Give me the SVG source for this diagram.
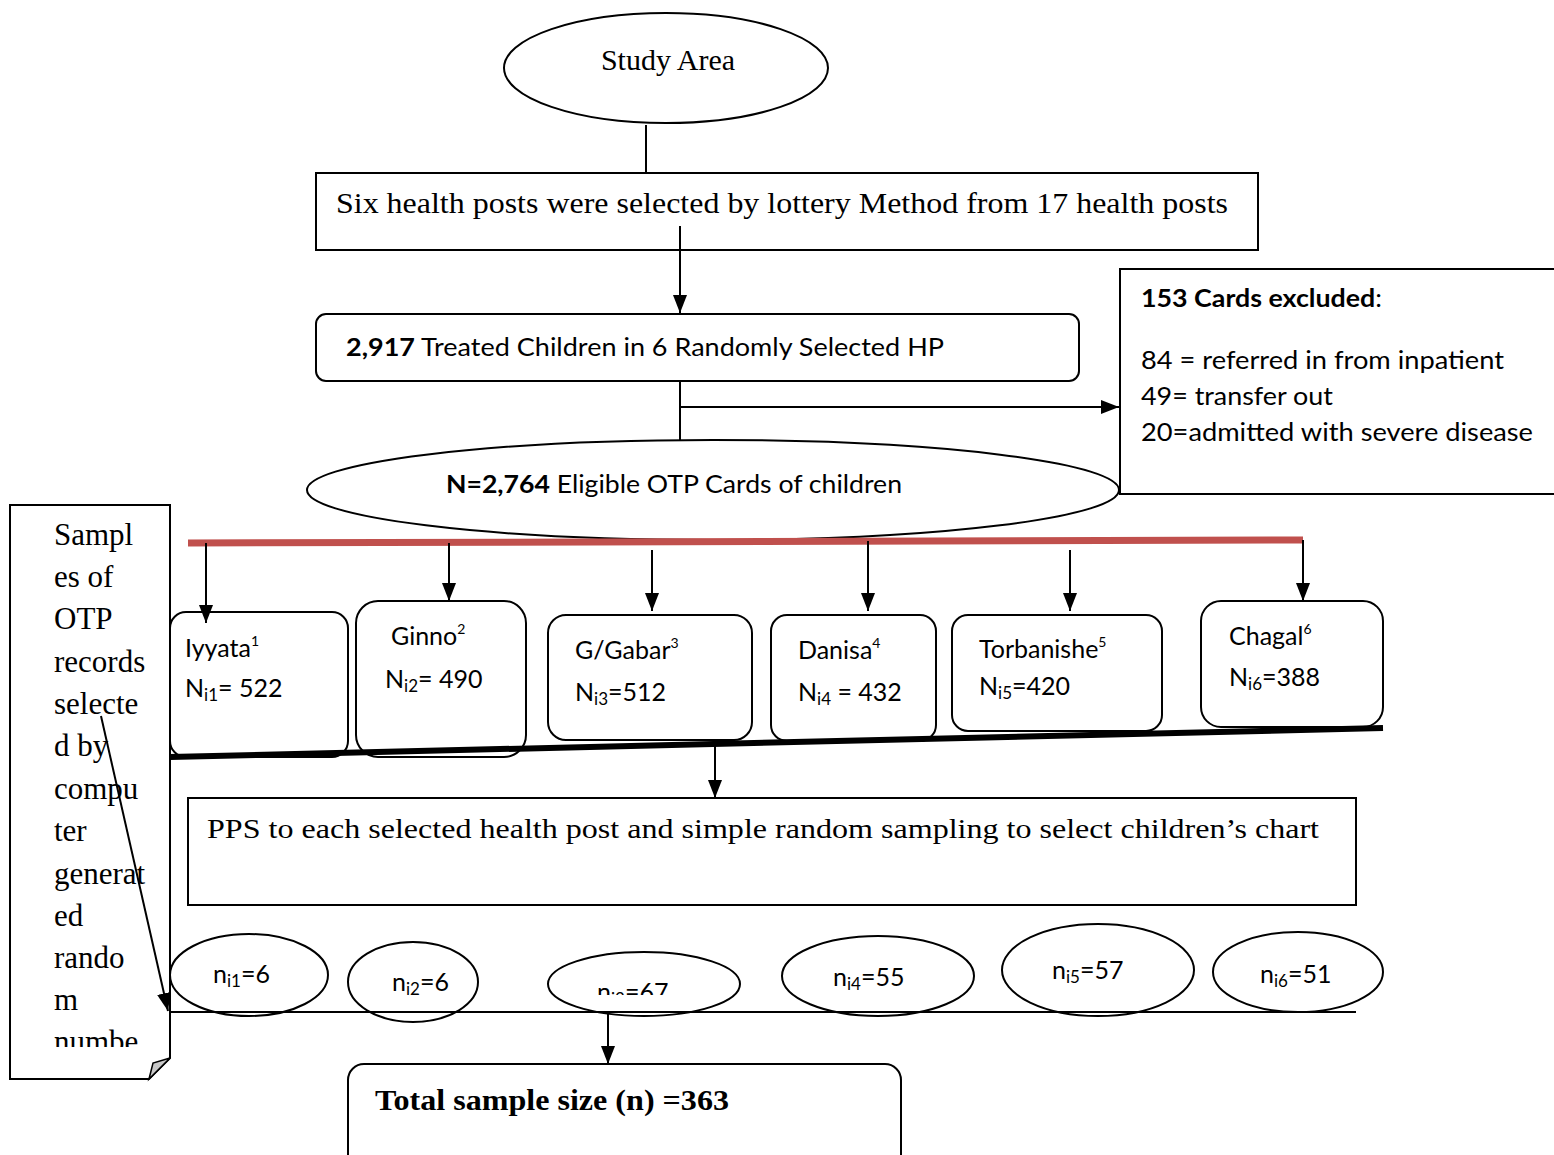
<svg xmlns="http://www.w3.org/2000/svg" width="1554" height="1155" viewBox="0 0 1554 1155">
<defs>
<marker id="ah" markerUnits="userSpaceOnUse" markerWidth="18" markerHeight="14" viewBox="0 0 18 14" refX="18" refY="7" orient="auto">
<path d="M0,0 L18,7 L0,14 Z" fill="#000"/>
</marker>
<clipPath id="clipSide"><rect x="10" y="505" width="160" height="542"/></clipPath>
<clipPath id="clipN3"><rect x="540" y="940" width="210" height="55"/></clipPath>
<style>
.ln{stroke:#000;stroke-width:2;fill:none}
.box{stroke:#000;stroke-width:2;fill:#fff}
.serif{font-family:"Liberation Serif","Times New Roman",serif;fill:#000}
.sans{font-family:Lato,"Open Sans","Liberation Sans",sans-serif;fill:#000}
.sub{font-size:17px}
.sup{font-size:14px}
</style>
</defs>

<g id="study-area">
<ellipse class="box" cx="666" cy="68" rx="162" ry="55"/>
<text class="serif" x="668" y="70" font-size="30" text-anchor="middle">Study Area</text>
</g>

<g id="selection">
<rect class="box" x="316" y="173" width="942" height="77"/>
<text class="serif" x="336" y="213" font-size="29" textLength="892" lengthAdjust="spacingAndGlyphs">Six health posts were selected by lottery Method from 17 health posts</text>
</g>

<g id="treated">
<rect class="box" x="316" y="314" width="763" height="67" rx="10"/>
<text class="sans" x="346" y="356" font-size="25" textLength="598" lengthAdjust="spacingAndGlyphs"><tspan font-weight="bold">2,917</tspan> Treated Children in 6 Randomly Selected HP</text>
</g>

<g id="excluded">
<rect class="box" x="1120" y="269" width="440" height="225"/>
<text class="sans" font-size="25" x="1141" y="307" textLength="241" lengthAdjust="spacingAndGlyphs"><tspan font-weight="bold">153 Cards excluded</tspan>:</text>
<text class="sans" font-size="25" x="1141" y="369" textLength="363" lengthAdjust="spacingAndGlyphs">84 = referred in from inpatient</text>
<text class="sans" font-size="25" x="1141" y="405" textLength="192" lengthAdjust="spacingAndGlyphs">49= transfer out</text>
<text class="sans" font-size="25" x="1141" y="441" textLength="392" lengthAdjust="spacingAndGlyphs">20=admitted with severe disease</text>
</g>

<g id="eligible">
<ellipse class="box" cx="713" cy="490" rx="406" ry="50"/>
<text class="sans" x="446" y="493" font-size="25" textLength="456" lengthAdjust="spacingAndGlyphs"><tspan font-weight="bold">N=2,764</tspan> Eligible OTP Cards of children</text>
</g>

<g id="sidebar">
<path class="box" d="M10,505 H170 V1058 L149,1079 H10 Z"/>
<path d="M149,1079 L153,1063 L170,1058 Z" fill="#c8c8c8" stroke="#000" stroke-width="1.5"/>
<g clip-path="url(#clipSide)">
<text class="serif" font-size="31">
<tspan x="54" y="545">Sampl</tspan>
<tspan x="54" y="587">es of</tspan>
<tspan x="54" y="629">OTP</tspan>
<tspan x="54" y="672">records</tspan>
<tspan x="54" y="714">selecte</tspan>
<tspan x="54" y="756">d by</tspan>
<tspan x="54" y="799">compu</tspan>
<tspan x="54" y="841">ter</tspan>
<tspan x="54" y="884">generat</tspan>
<tspan x="54" y="926">ed</tspan>
<tspan x="54" y="968">rando</tspan>
<tspan x="54" y="1010">m</tspan>
<tspan x="54" y="1052">numbe</tspan>
</text>
</g>
</g>

<g id="hp1">
<rect class="box" x="170" y="612" width="178" height="145" rx="16"/>
<text class="sans" x="185" y="657" font-size="25">Iyyata<tspan class="sup" dy="-11">1</tspan></text>
<text class="sans" x="185" y="697" font-size="25">N<tspan class="sub" dy="4">i1</tspan><tspan dy="-4">= 522</tspan></text>
</g>
<g id="hp2">
<rect class="box" x="356" y="601" width="170" height="156" rx="22"/>
<text class="sans" x="391" y="645" font-size="25">Ginno<tspan class="sup" dy="-11">2</tspan></text>
<text class="sans" x="385" y="688" font-size="25">N<tspan class="sub" dy="4">i2</tspan><tspan dy="-4">= 490</tspan></text>
</g>
<g id="hp3">
<rect class="box" x="548" y="615" width="204" height="125" rx="18"/>
<text class="sans" x="575" y="659" font-size="25">G/Gabar<tspan class="sup" dy="-11">3</tspan></text>
<text class="sans" x="575" y="701" font-size="25">N<tspan class="sub" dy="4">i3</tspan><tspan dy="-4">=512</tspan></text>
</g>
<g id="hp4">
<rect class="box" x="771" y="615" width="165" height="126" rx="16"/>
<text class="sans" x="798" y="659" font-size="25">Danisa<tspan class="sup" dy="-11">4</tspan></text>
<text class="sans" x="798" y="701" font-size="25">N<tspan class="sub" dy="4">i4</tspan><tspan dy="-4"> = 432</tspan></text>
</g>
<g id="hp5">
<rect class="box" x="952" y="615" width="210" height="116" rx="16"/>
<text class="sans" x="979" y="658" font-size="25">Torbanishe<tspan class="sup" dy="-11">5</tspan></text>
<text class="sans" x="979" y="695" font-size="25">N<tspan class="sub" dy="4">i5</tspan><tspan dy="-4">=420</tspan></text>
</g>
<g id="hp6">
<rect class="box" x="1201" y="601" width="182" height="126" rx="20"/>
<text class="sans" x="1229" y="645" font-size="25">Chagal<tspan class="sup" dy="-11">6</tspan></text>
<text class="sans" x="1229" y="686" font-size="25">N<tspan class="sub" dy="4">i6</tspan><tspan dy="-4">=388</tspan></text>
</g>

<g id="pps">
<rect class="box" x="188" y="798" width="1168" height="107"/>
<text class="serif" x="207" y="838" font-size="28" textLength="1112" lengthAdjust="spacingAndGlyphs">PPS to each selected health post and simple random sampling to select children’s chart</text>
</g>

<g id="n1">
<ellipse class="box" cx="249" cy="975" rx="79" ry="41"/>
<text class="sans" x="213" y="983" font-size="25">n<tspan class="sub" dy="4">i1</tspan><tspan dy="-4">=6</tspan></text>
</g>
<g id="n2">
<ellipse class="box" cx="413" cy="982" rx="65" ry="40"/>
<text class="sans" x="392" y="991" font-size="25">n<tspan class="sub" dy="4">i2</tspan><tspan dy="-4">=6</tspan></text>
</g>
<g id="n3">
<ellipse class="box" cx="644" cy="984" rx="96" ry="32"/>
<text class="sans" x="597" y="1001" font-size="25" clip-path="url(#clipN3)">n<tspan class="sub" dy="4">i3</tspan><tspan dy="-4">=67</tspan></text>
</g>
<g id="n4">
<ellipse class="box" cx="878" cy="976" rx="96" ry="40"/>
<text class="sans" x="833" y="986" font-size="25">n<tspan class="sub" dy="4">i4</tspan><tspan dy="-4">=55</tspan></text>
</g>
<g id="n5">
<ellipse class="box" cx="1098" cy="970" rx="96" ry="46"/>
<text class="sans" x="1052" y="979" font-size="25">n<tspan class="sub" dy="4">i5</tspan><tspan dy="-4">=57</tspan></text>
</g>
<g id="n6">
<ellipse class="box" cx="1298" cy="972" rx="85" ry="40"/>
<text class="sans" x="1260" y="983" font-size="25">n<tspan class="sub" dy="4">i6</tspan><tspan dy="-4">=51</tspan></text>
</g>

<g id="total">
<rect class="box" x="348" y="1064" width="553" height="110" rx="16"/>
<text class="serif" x="375" y="1110" font-size="30" font-weight="bold" textLength="354" lengthAdjust="spacingAndGlyphs">Total sample size (n) =363</text>
</g>

<g id="connectors">
<line class="ln" x1="646" y1="125" x2="646" y2="173"/>
<line class="ln" x1="680" y1="226" x2="680" y2="313" marker-end="url(#ah)"/>
<line class="ln" x1="680" y1="381" x2="680" y2="440"/>
<line class="ln" x1="680" y1="407" x2="1119" y2="407" marker-end="url(#ah)"/>
<line x1="188" y1="543" x2="1303" y2="540" stroke="#c0504d" stroke-width="7"/>
<line class="ln" x1="206" y1="543" x2="206" y2="623" marker-end="url(#ah)"/>
<line class="ln" x1="449" y1="543" x2="449" y2="601" marker-end="url(#ah)"/>
<line class="ln" x1="652" y1="550" x2="652" y2="611" marker-end="url(#ah)"/>
<line class="ln" x1="868" y1="541" x2="868" y2="611" marker-end="url(#ah)"/>
<line class="ln" x1="1070" y1="550" x2="1070" y2="611" marker-end="url(#ah)"/>
<line class="ln" x1="1303" y1="540" x2="1303" y2="601" marker-end="url(#ah)"/>
<line x1="170" y1="757" x2="1383" y2="728" stroke="#000" stroke-width="6"/>
<line class="ln" x1="715" y1="745" x2="715" y2="798" marker-end="url(#ah)"/>
<line class="ln" x1="101" y1="716" x2="168" y2="1011" marker-end="url(#ah)"/>
<line class="ln" x1="170" y1="1012" x2="1356" y2="1012"/>
<line class="ln" x1="608" y1="1012" x2="608" y2="1064" marker-end="url(#ah)"/>
</g>
</svg>
